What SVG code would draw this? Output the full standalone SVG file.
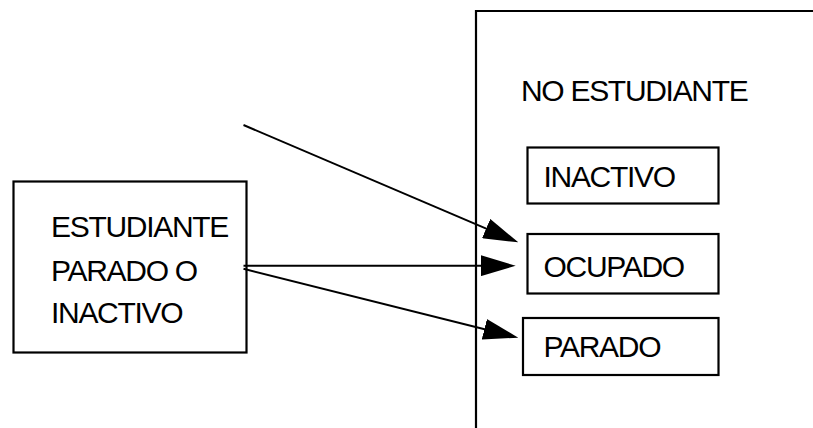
<svg xmlns="http://www.w3.org/2000/svg" width="813" height="428" viewBox="0 0 813 428">
  <style>
    .box { fill: #ffffff; stroke: #000000; stroke-width: 2.2; }
    .frame { fill: none; stroke: #000000; stroke-width: 2.2; }
    .label { font-family: "Liberation Sans", Arial, sans-serif; font-size: 30px; fill: #000000; letter-spacing: -1.3px; }
    .conn { fill: none; stroke: #000000; stroke-width: 2; }
  </style>
  <defs>
    <marker id="head" markerUnits="userSpaceOnUse" viewBox="0 0 35 21" refX="25" refY="10.5" markerWidth="35" markerHeight="21" orient="auto">
      <polygon points="0,0 35,10.5 0,21" fill="#000000"/>
    </marker>
  </defs>
  <rect width="813" height="428" fill="#ffffff"/>

  <!-- outer region: NO ESTUDIANTE -->
  <g id="no-estudiante">
    <polyline class="frame" points="476,428 476,11 813,11"/>
    <text class="label" x="521" y="101">NO ESTUDIANTE</text>
  </g>

  <g id="inactivo">
    <rect class="box" x="527.5" y="147.5" width="191" height="56"/>
    <text class="label" x="543.5" y="187">INACTIVO</text>
  </g>

  <g id="ocupado">
    <rect class="box" x="527.5" y="234" width="191" height="59.5"/>
    <text class="label" x="543.5" y="277">OCUPADO</text>
  </g>

  <g id="parado">
    <rect class="box" x="523" y="318" width="195.5" height="57"/>
    <text class="label" x="543.5" y="356.5">PARADO</text>
  </g>

  <g id="estudiante">
    <rect class="box" x="13.5" y="181.5" width="233" height="171"/>
    <text class="label" x="51" y="237">ESTUDIANTE</text>
    <text class="label" x="51" y="281">PARADO O</text>
    <text class="label" x="51" y="323">INACTIVO</text>
  </g>

  <!-- connectors -->
  <g id="connectors">
    <line class="conn" x1="243.5" y1="125" x2="509.1" y2="238.4" marker-end="url(#head)"/>
    <line class="conn" x1="243.5" y1="265.7" x2="505.7" y2="265.7" marker-end="url(#head)"/>
    <line class="conn" x1="243.5" y1="268.8" x2="508.6" y2="335.3" marker-end="url(#head)"/>
  </g>
</svg>
